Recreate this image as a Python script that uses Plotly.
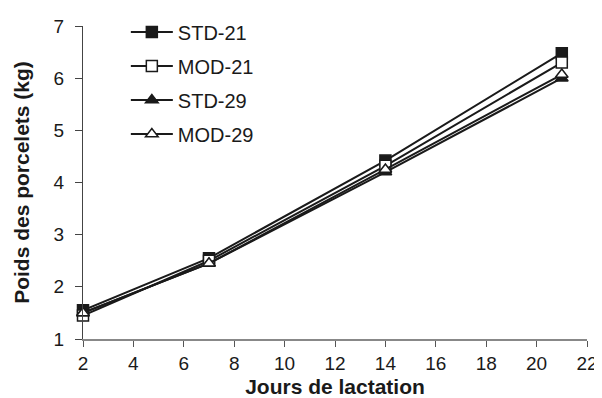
import plotly.graph_objects as go

jours = [2, 7, 14, 21]
std21 = [1.55, 2.55, 4.42, 6.48]
mod21 = [1.45, 2.50, 4.32, 6.30]
std29 = [1.50, 2.45, 4.20, 6.00]
mod29 = [1.50, 2.45, 4.25, 6.07]

series = [
    ("STD-21", std21, "square", "#1a1a1a"),
    ("MOD-21", mod21, "square", "white"),
    ("STD-29", std29, "triangle-up", "#1a1a1a"),
    ("MOD-29", mod29, "triangle-up", "white"),
]

fig = go.Figure()
for name, vals, sym, fill in series:
    fig.add_trace(go.Scatter(
        x=jours, y=vals, name=name, mode="lines+markers",
        legendgroup=name,
        line=dict(color="#1a1a1a", width=2),
        marker=dict(symbol=sym, size=11, color=fill,
                    line=dict(color="#1a1a1a", width=1.5)),
        cliponaxis=False,
    ))

font = dict(family="Liberation Sans, Arial, sans-serif", size=19, color="#1a1a1a")
fig.update_layout(
    width=594, height=390,
    margin=dict(l=75, r=15, t=18, b=59, autoexpand=False),
    paper_bgcolor="white", plot_bgcolor="white",
    font=font,
    showlegend=True,
    legend=dict(x=0.085, y=1.043, xanchor="left", yanchor="top",
                bgcolor="rgba(0,0,0,0)", font=dict(size=20),
                tracegroupgap=5, itemwidth=42),
    xaxis=dict(range=[2, 22], tickvals=list(range(2, 23, 2)),
               showline=True, linecolor="#888888", linewidth=1.5,
               ticks="outside", ticklen=6, tickcolor="#555555",
               ticklabelstandoff=0,
               showgrid=False, zeroline=False, automargin=True,
               title=dict(text="<b>Jours de lactation</b>", standoff=8,
                          font=dict(size=21))),
    yaxis=dict(range=[1, 7], tickvals=list(range(1, 8)),
               showline=True, linecolor="#444444", linewidth=1,
               ticks="outside", ticklen=7, tickcolor="#444444",
               ticklabelstandoff=7,
               showgrid=False, zeroline=False, automargin=True,
               title=dict(text="<b>Poids des porcelets (kg)</b>", standoff=18,
                          font=dict(size=21))),
)

fig.write_html("out.html")
